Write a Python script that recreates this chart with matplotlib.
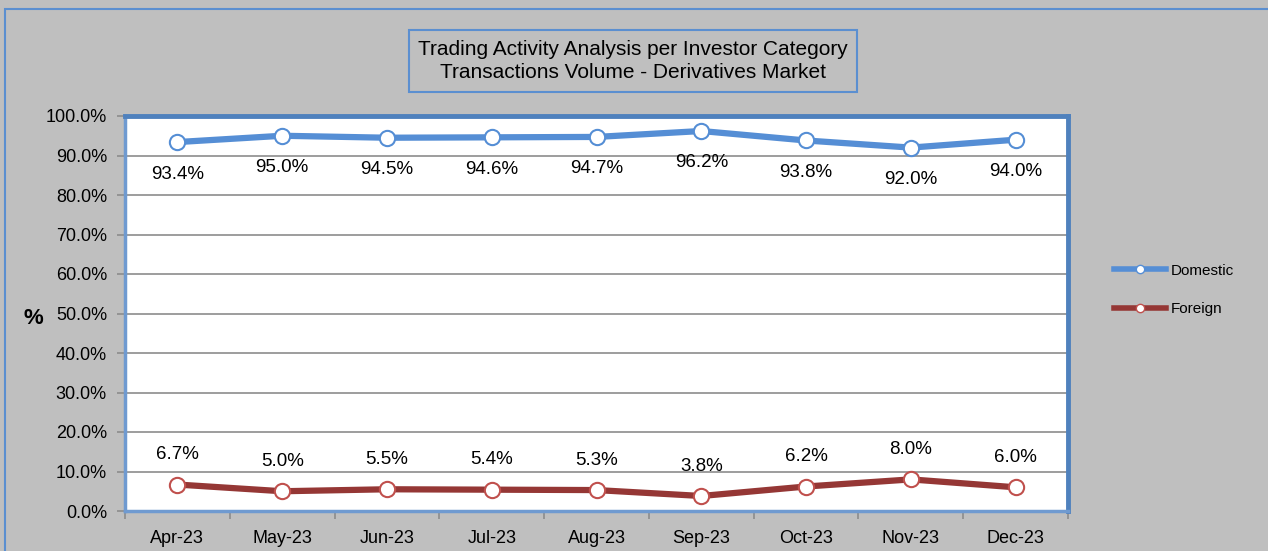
import matplotlib
matplotlib.use("Agg")
import matplotlib.pyplot as plt
from matplotlib.patches import Rectangle
from matplotlib.lines import Line2D
from matplotlib import font_manager

months = ["Apr-23", "May-23", "Jun-23", "Jul-23", "Aug-23", "Sep-23", "Oct-23", "Nov-23", "Dec-23"]
domestic = [93.4, 95.0, 94.5, 94.6, 94.7, 96.2, 93.8, 92.0, 94.0]
foreign = [6.7, 5.0, 5.5, 5.4, 5.3, 3.8, 6.2, 8.0, 6.0]
yticks = [0, 10, 20, 30, 40, 50, 60, 70, 80, 90, 100]

names = {f.name for f in font_manager.fontManager.ttflist}
fam = "Liberation Sans Narrow" if "Liberation Sans Narrow" in names else "Liberation Sans"
plt.rcParams["font.family"] = [fam, "DejaVu Sans"]

W, H = 1268, 551
fig = plt.figure(figsize=(W / 100, H / 100), dpi=100)
fig.patch.set_facecolor("#BFBFBF")

# outer border
fig.add_artist(Rectangle((5 / W, -0.05), 1.2, 1 - 9 / H + 0.05, transform=fig.transFigure,
                         fill=False, edgecolor="#5B8FD0", lw=1.5))

L, R, T, B = 125, 1068, 116, 511
ax = fig.add_axes([L / W, 1 - B / H, (R - L) / W, (B - T) / H])
ax.set_facecolor("white")
x = list(range(len(months)))
blue = "#558ED5"
red = "#953735"
ax.plot(x, domestic, color=blue, lw=4.5, marker="o", ms=11, mfc="white", mec=blue, mew=1.5, zorder=3, clip_on=False)
ax.plot(x, foreign, color=red, lw=4.5, marker="o", ms=11, mfc="white", mec="#C0504D", mew=1.5, zorder=3, clip_on=False)

for i, v in enumerate(domestic):
    ax.annotate(f"{v:.1f}%", (i, v), xytext=(0, -23), textcoords="offset points", ha="center",
                va="center", fontsize=13.5, color="black")
for i, v in enumerate(foreign):
    ax.annotate(f"{v:.1f}%", (i, v), xytext=(0, 21.5), textcoords="offset points", ha="center",
                va="center", fontsize=13.5, color="black")

ax.set_xlim(-0.5, len(months) - 0.5)
ax.set_ylim(0, 100)
ax.set_yticks(yticks)
ax.set_yticklabels([f"{t:.1f}%" for t in yticks], fontsize=13)
ax.yaxis.grid(True, color="#8C8C8C", lw=1.2)
ax.set_axisbelow(True)
ax.set_xticks(x)
ax.set_xticklabels(months, fontsize=13)
ax.set_xticks([i - 0.5 for i in range(len(months) + 1)], minor=True)
ax.tick_params(axis="x", which="major", length=0, pad=14)
ax.tick_params(axis="x", which="minor", length=6, color="#8C8C8C", width=1.2)
ax.tick_params(axis="y", length=6, color="#8C8C8C", width=1.2, pad=7)
for s in ["top", "right"]:
    ax.spines[s].set_color("#4F81BD")
    ax.spines[s].set_linewidth(3.5)
for s in ["left", "bottom"]:
    ax.spines[s].set_color("#6F9AD0")
    ax.spines[s].set_linewidth(2.5)

fig.text(33 / W, 1 - 318 / H, "%", fontsize=16, fontweight="bold", ha="center", va="center")

# title box
fig.text(633 / W, 1 - 61 / H,
         "Trading Activity Analysis per Investor Category\nTransactions Volume - Derivatives Market",
         fontsize=15, ha="center", va="center", linespacing=1.3,
         bbox=dict(boxstyle="square,pad=0.45", facecolor="#BFBFBF", edgecolor="#5B8FD0", lw=1.5))

# legend
handles = [Line2D([], [], color=blue, lw=4, marker="o", ms=6, mfc="white", mec=blue),
           Line2D([], [], color=red, lw=4, marker="o", ms=6, mfc="white", mec="#C0504D")]
fig.legend(handles, ["Domestic", "Foreign"], loc="center left", bbox_to_anchor=(1100 / W, 1 - 290 / H),
           frameon=False, fontsize=11, handlelength=3.4, handletextpad=0.3, labelspacing=1.6)

fig.savefig("out.png", dpi=100, facecolor=fig.get_facecolor())
